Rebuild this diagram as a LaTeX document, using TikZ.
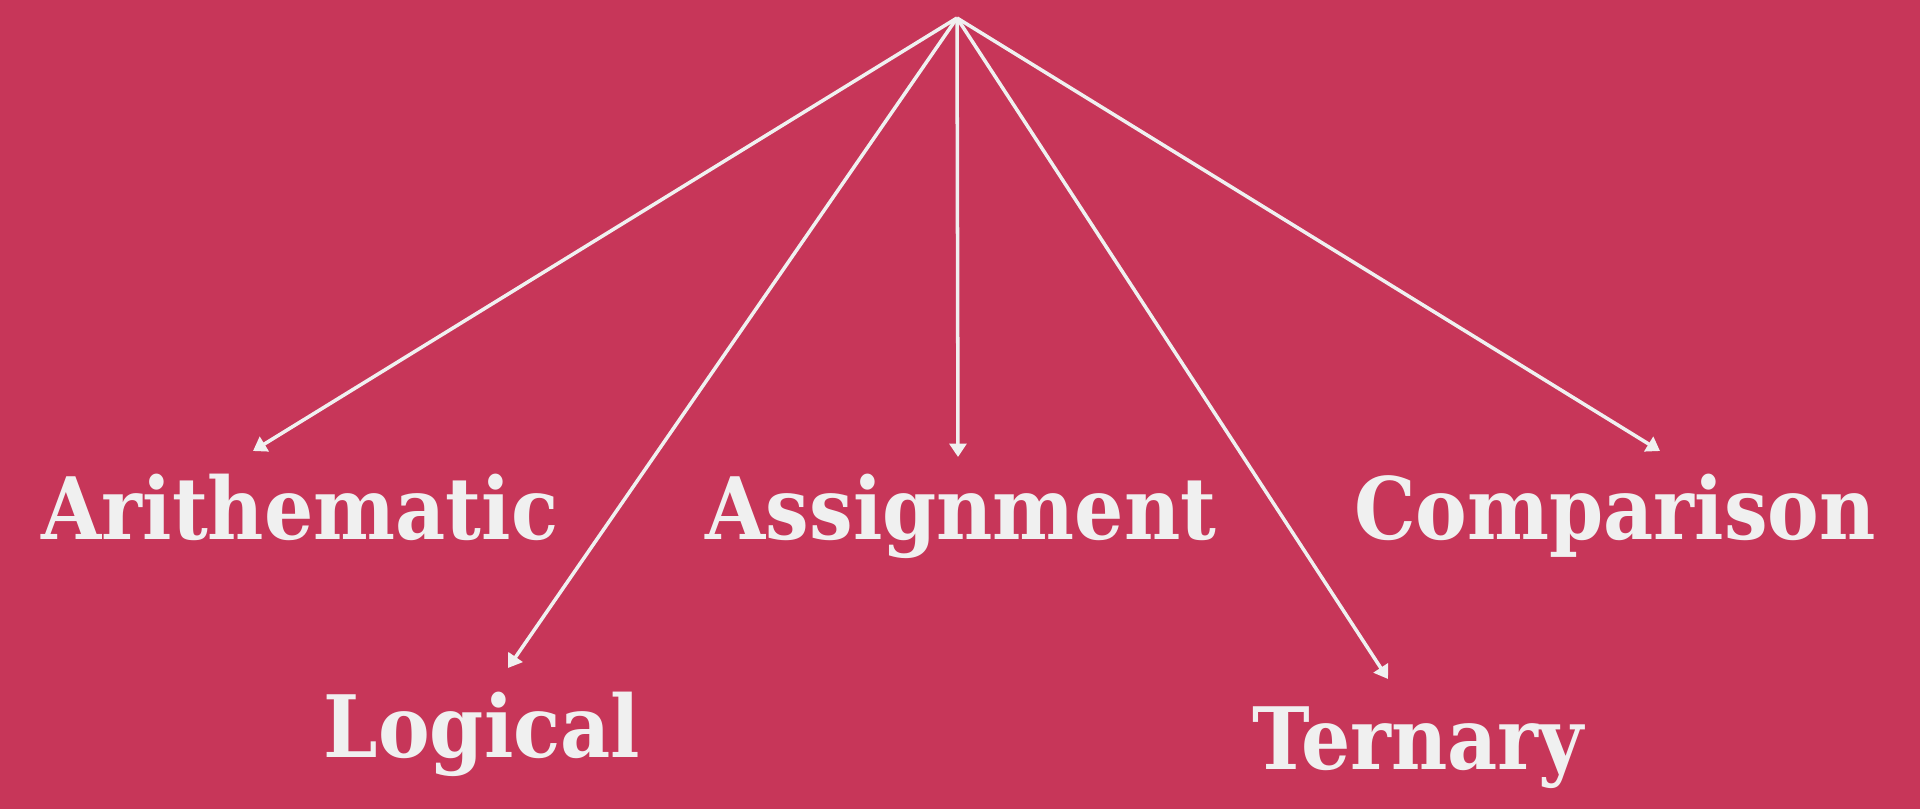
\documentclass[tikz,border=0pt]{standalone}
\usepackage{fontspec}
\setmainfont{DejaVu Serif}[FakeStretch=0.9]
\usepackage{tikz}
\usetikzlibrary{arrows.meta}
\definecolor{bgred}{RGB}{199,54,89}
\definecolor{fgwhite}{RGB}{240,240,240}
\tikzset{
    oplabel/.style={anchor=base,inner sep=0pt,text=fgwhite,font=\fontsize{24.5}{29}\selectfont\bfseries},
    oparrow/.style={fgwhite,line width=1pt,-{Triangle[length=3.8pt,width=4.8pt]}}
}
\begin{document}
\begin{tikzpicture}
            \fill[bgred] (0,0) rectangle (19.2,8.09);
            \useasboundingbox (0,0) rectangle (19.2,8.09);
            \coordinate (apex) at (9.57,7.91);
            \node[oplabel] (ari) at (3.00,2.69) {Arithematic};
            \node[oplabel] (asg) at (9.61,2.69) {Assignment};
            \node[oplabel] (cmp) at (16.15,2.69) {Comparison};
            \node[oplabel] (log) at (4.82,0.51) {Logical};
            \node[oplabel] (ter) at (14.18,0.39) {Ternary};
            \foreach \name/\dx/\dy in {ari/-0.47/0.89, log/0.26/0.90, asg/-0.03/0.83, ter/-0.30/0.91, cmp/0.45/0.89}
                \draw[oparrow] (apex) -- ([shift={(\dx,\dy)}]\name.base);
        \end{tikzpicture}
\end{document}
